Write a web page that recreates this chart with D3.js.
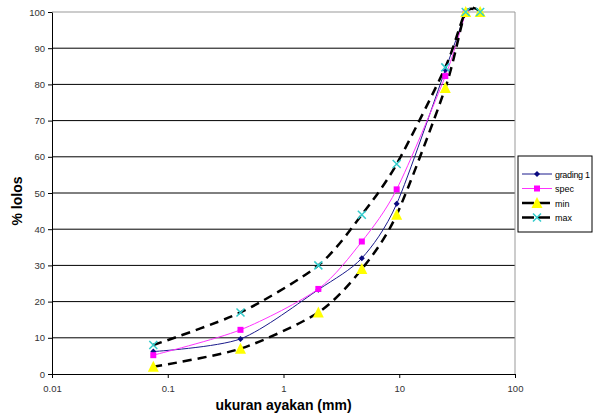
<!DOCTYPE html>
<html>
<head>
<meta charset="utf-8">
<script src="https://cdn.jsdelivr.net/npm/d3@7"></script>
<style>
  body { margin: 0; background: #fff; }
  text { font-family: Arial, "Liberation Sans", sans-serif; }
</style>
</head>
<body>
<div id="chart"></div>
<script>
// sieve sizes (mm) and percent passing
let sieves = [0.075, 0.425, 2, 4.75, 9.5, 25, 37.5, 50];
let grading1 = [6.2, 9.7, 23.3, 32, 47, 84, 100];
let spec = [5.2, 12.2, 23.5, 36.6, 51, 82.3, 100];
let minVals = [2, 7, 17, 29, 44, 79, 100, 100];
let maxVals = [8, 17, 30, 44, 58, 84.7, 100, 100];
let xTicks = [0.01, 0.1, 1, 10, 100];
let yTicks = [0, 10, 20, 30, 40, 50, 60, 70, 80, 90, 100];

let width = 593, height = 415,
    margin = {left: 52, top: 12, right: 78, bottom: 41},
    plotW = width - margin.left - margin.right,
    plotH = height - margin.top - margin.bottom;

let svg = d3.select('#chart').append('svg')
    .attr('width', width)
    .attr('height', height);

let g = svg.append('g')
    .attr('transform', `translate(${margin.left}, ${margin.top})`);

let x = d3.scaleLog().domain([0.01, 100]).range([0, plotW]);
let y = d3.scaleLinear().domain([0, 100]).range([plotH, 0]);

// gridlines
g.selectAll('.grid')
    .data(yTicks.filter(d => d > 0))
    .join('line')
    .attr('x1', 0).attr('x2', plotW)
    .attr('y1', d => y(d)).attr('y2', d => y(d))
    .attr('stroke', d => d === 100 ? '#999' : '#000')
    .attr('stroke-width', 1);

// right border
g.append('line')
    .attr('x1', plotW).attr('x2', plotW)
    .attr('y1', 0).attr('y2', plotH)
    .attr('stroke', '#999');

let xAxis = g.append('g')
    .attr('transform', `translate(0, ${plotH})`)
    .call(d3.axisBottom(x).tickValues(xTicks).tickFormat(d => String(d)).tickSize(4).tickSizeOuter(0));

let yAxis = g.append('g')
    .call(d3.axisLeft(y).tickValues(yTicks).tickSize(4).tickSizeOuter(0));

[xAxis, yAxis].forEach(a => {
    a.select('.domain').attr('stroke', '#000');
    a.selectAll('.tick line').attr('stroke', '#000');
    a.selectAll('.tick text')
        .attr('font-size', '9.5px')
        .attr('fill', '#333')
        .style('font-family', 'Arial, "Liberation Sans", sans-serif');
});
xAxis.selectAll('.tick text').attr('dy', '1.2em');

let line = d3.line()
    .x(d => x(d[0]))
    .y(d => y(d[1]))
    .curve(d3.curveCardinal.tension(0.2));

let pts = vals => vals.map((v, i) => [sieves[i], v]);

let series = [
    {name: 'grading 1', data: pts(grading1), color: '#1a1a8c', width: 1, dash: null, marker: 'diamond', mcolor: '#0a0a80'},
    {name: 'spec', data: pts(spec), color: '#ff33ff', width: 1, dash: null, marker: 'square', mcolor: '#ff00ff'},
    {name: 'min', data: pts(minVals), color: '#000', width: 2.5, dash: '9,6', marker: 'triangle', mcolor: '#ffff00'},
    {name: 'max', data: pts(maxVals), color: '#000', width: 2.5, dash: '9,6', marker: 'cross', mcolor: '#33cccc'}
];

function drawMarker(sel, s) {
    if (s.marker === 'diamond') {
        sel.append('path').attr('d', 'M0,-3L3,0L0,3L-3,0Z').attr('fill', s.mcolor);
    } else if (s.marker === 'square') {
        sel.append('rect').attr('x', -3).attr('y', -3).attr('width', 6).attr('height', 6).attr('fill', s.mcolor);
    } else if (s.marker === 'triangle') {
        sel.append('path').attr('d', 'M0,-6L5.5,5L-5.5,5Z').attr('fill', s.mcolor);
    } else {
        sel.append('path').attr('d', 'M-4,-4L4,4M-4,4L4,-4')
            .attr('stroke', s.mcolor).attr('stroke-width', 1.5);
    }
}

series.forEach(s => {
    g.append('path')
        .datum(s.data)
        .attr('d', line)
        .attr('fill', 'none')
        .attr('stroke', s.color)
        .attr('stroke-width', s.width)
        .attr('stroke-dasharray', s.dash);
});

series.forEach(s => {
    g.selectAll(null)
        .data(s.data)
        .join('g')
        .attr('transform', d => `translate(${x(d[0])}, ${y(d[1])})`)
        .each(function () { drawMarker(d3.select(this), s); });
});

// axis titles
svg.append('text')
    .attr('x', margin.left + plotW / 2)
    .attr('y', 410)
    .attr('text-anchor', 'middle')
    .attr('font-size', '14px')
    .attr('font-weight', 'bold')
    .text('ukuran ayakan (mm)');

svg.append('text')
    .attr('transform', 'translate(22, 201) rotate(-90)')
    .attr('text-anchor', 'middle')
    .attr('font-size', '14px')
    .attr('font-weight', 'bold')
    .text('% lolos');

// legend
let legend = svg.append('g').attr('transform', 'translate(518, 156)');
legend.append('rect')
    .attr('width', 74).attr('height', 76)
    .attr('fill', '#fff').attr('stroke', '#000');

series.forEach((s, i) => {
    let row = legend.append('g').attr('transform', `translate(0, ${18 + i * 14.5})`);
    row.append('line')
        .attr('x1', 4).attr('x2', 34)
        .attr('stroke', s.color)
        .attr('stroke-width', s.width)
        .attr('stroke-dasharray', s.dash ? '12,4' : null);
    let m = row.append('g').attr('transform', 'translate(19, 0)');
    drawMarker(m, s);
    row.append('text')
        .attr('x', 37).attr('y', 3.5)
        .attr('font-size', '9px')
        .attr('textLength', s.name === 'grading 1' ? 35 : null)
        .text(s.name);
});
</script>
</body>
</html>
